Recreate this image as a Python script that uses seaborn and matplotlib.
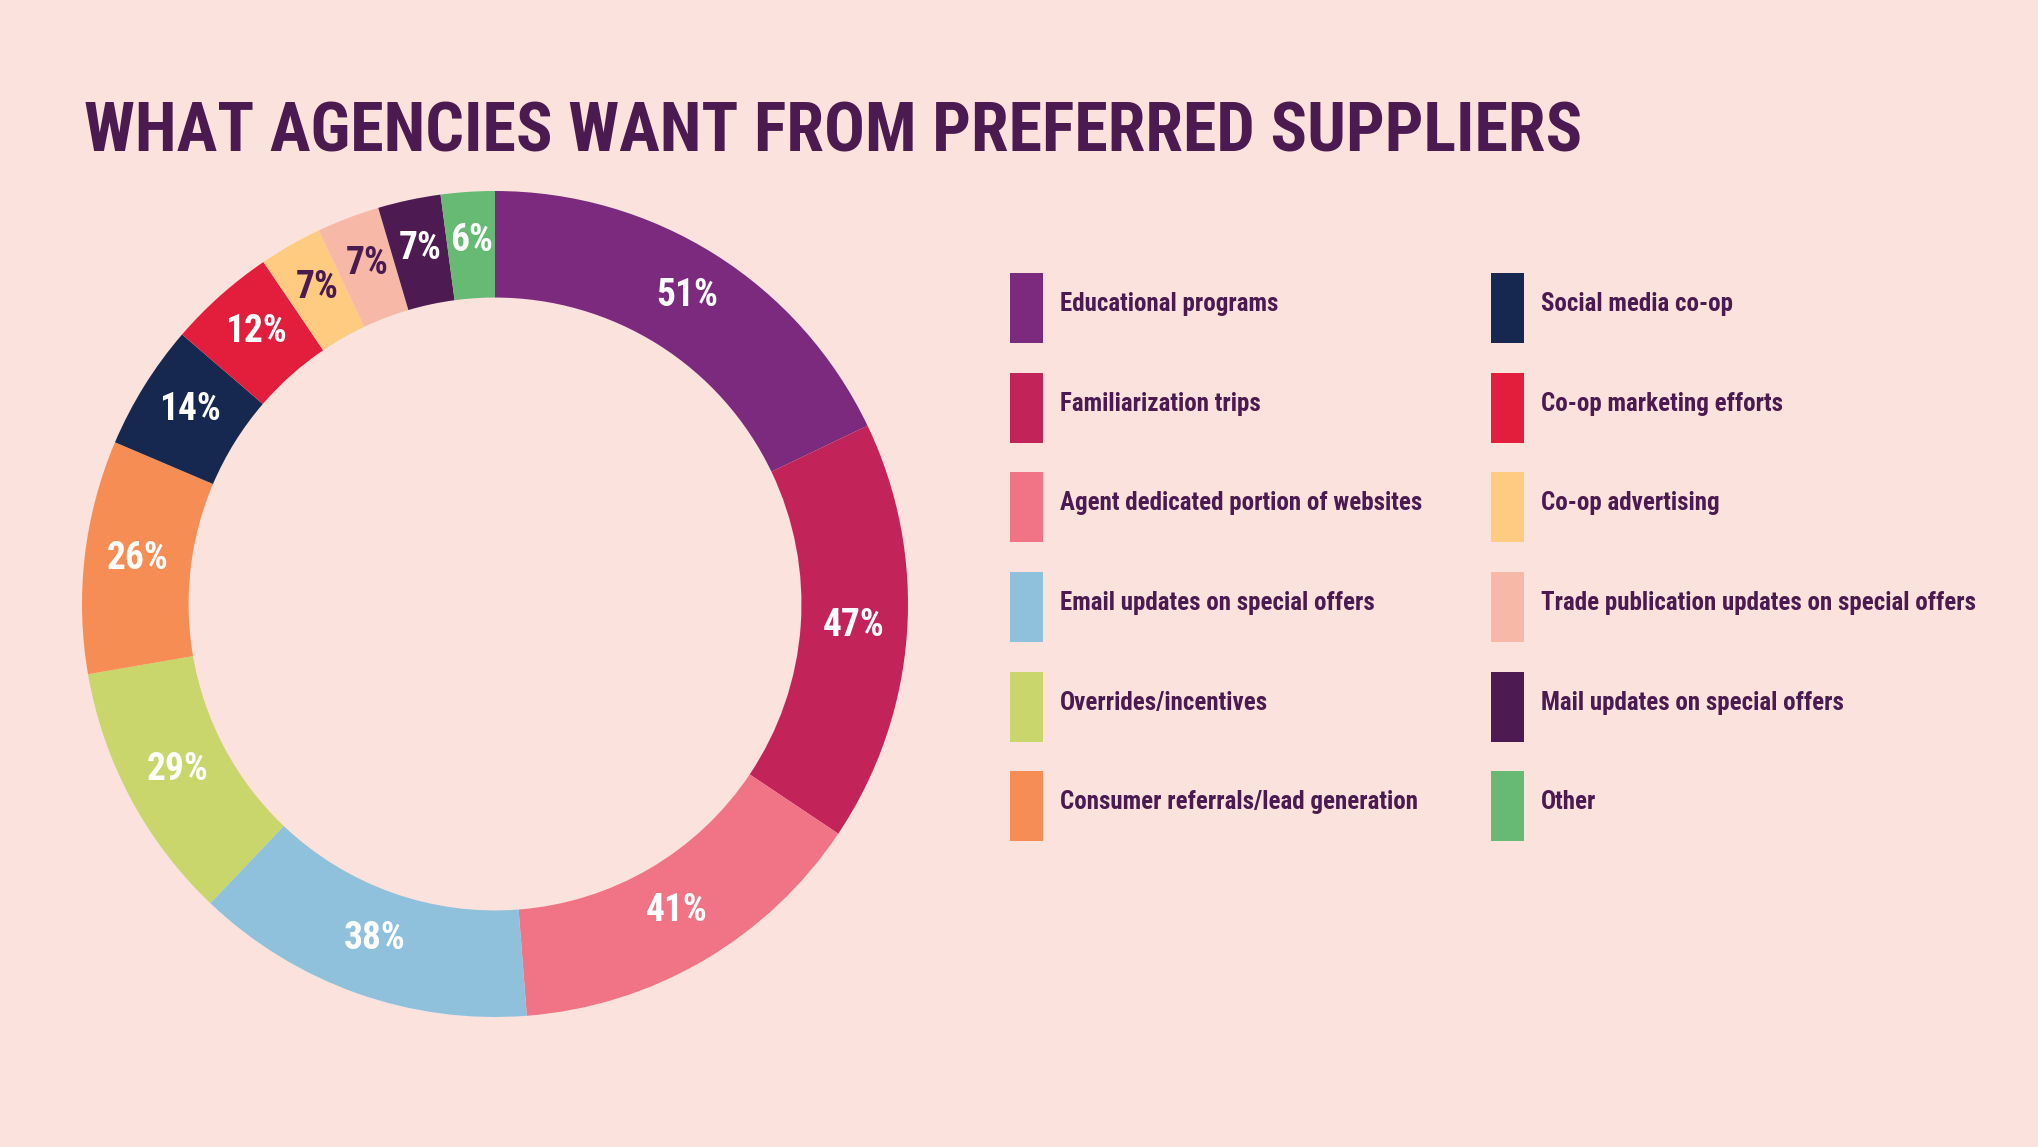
import numpy as np
import matplotlib
matplotlib.use("Agg")
from matplotlib import pyplot as plt
from matplotlib.patches import Rectangle
import seaborn as sns

#===== DATA =====================================
categories = [
    "Educational programs",
    "Familiarization trips",
    "Agent dedicated portion of websites",
    "Email updates on special offers",
    "Overrides/incentives",
    "Consumer referrals/lead generation",
    "Social media co-op",
    "Co-op marketing efforts",
    "Co-op advertising",
    "Trade publication updates on special offers",
    "Mail updates on special offers",
    "Other",
]
values = [51, 47, 41, 38, 29, 26, 14, 12, 7, 7, 7, 6]
colors = [
    "#7B2A7E", "#C2245A", "#F07386", "#8FC1DC", "#C8D66C", "#F68D55",
    "#16284F", "#E31E3C", "#FECB80", "#F8B8A8", "#4E1A52", "#66BA73",
]
label_colors = ["white"] * 8 + ["#4B1A50", "#4B1A50", "white", "white"]

BG = "#FBE2DC"
DARK = "#4B1A50"

#===== STYLE =====================================
sns.set_theme(style="white", rc={"figure.facecolor": BG, "axes.facecolor": BG,
                                 "savefig.facecolor": BG})
FONT = ["Roboto Condensed", "Liberation Sans Narrow", "DejaVu Sans"]
plt.rcParams["font.family"] = FONT
palette = sns.color_palette(colors)

W, H = 2038, 1147
fig = plt.figure(figsize=(W / 100, H / 100), dpi=100)

# donut: center (495, 604) px, outer radius 413 px
cx, cy, r = 495, 604, 413
ax = fig.add_axes([(cx - r) / W, (H - cy - r) / H, 2 * r / W, 2 * r / H])
wedges, _ = ax.pie(values, colors=palette, startangle=90, counterclock=False,
                   radius=1, wedgeprops=dict(width=0.258, edgecolor="none"))
ax.set_xlim(-1, 1)
ax.set_ylim(-1, 1)
ax.set_aspect("equal")
ax.axis("off")

# percentage labels at the middle of each ring segment
mid_r = 1 - 0.258 / 2
for w, v, tc in zip(wedges, values, label_colors):
    ang = np.deg2rad((w.theta1 + w.theta2) / 2)
    ax.text(mid_r * np.cos(ang), mid_r * np.sin(ang) + 0.01, f"{v}%", color=tc,
            fontsize=27, fontweight="bold", ha="center", va="center")

# title + legend on an overlay in pixel coords
lax = fig.add_axes([0, 0, 1, 1])
lax.set_xlim(0, W)
lax.set_ylim(H, 0)
lax.axis("off")
lax.patch.set_alpha(0)

lax.text(84, 152, "WHAT AGENCIES WANT FROM PREFERRED SUPPLIERS", color=DARK,
         fontsize=49, fontweight="bold", ha="left", va="baseline")

col_x = [1010, 1491]
row_y = [308, 408, 507, 607, 707, 806]
for i, (cat, c) in enumerate(zip(categories, palette)):
    x = col_x[i // 6]
    y = row_y[i % 6]
    lax.add_patch(Rectangle((x, y - 35), 33, 70, color=c, lw=0))
    lax.text(x + 50, y + 3, cat, color=DARK, fontsize=18, fontweight="bold",
             ha="left", va="baseline")

fig.savefig("out.png", dpi=100, facecolor=BG)
